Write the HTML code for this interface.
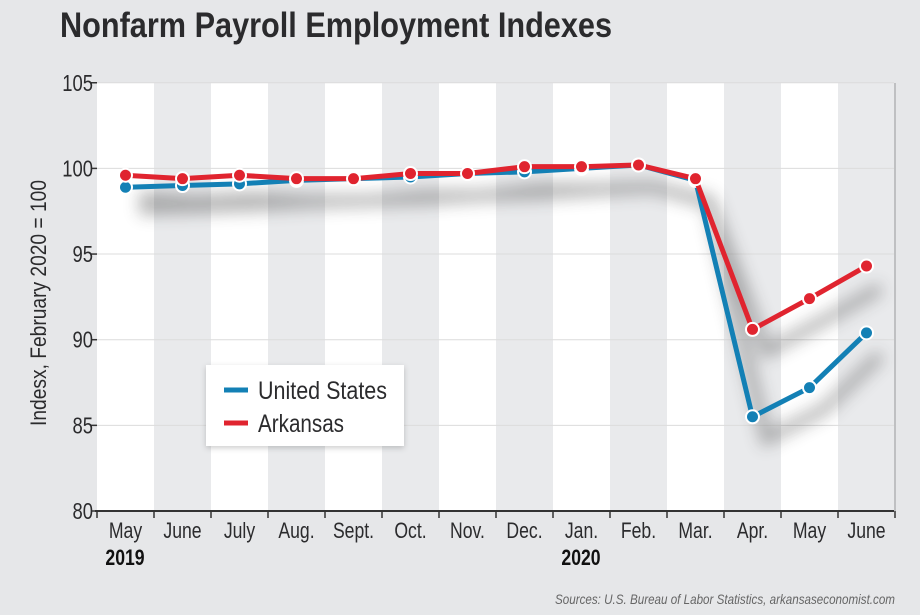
<!DOCTYPE html>
<html><head><meta charset="utf-8"><style>
body{margin:0;background:#e6e7e9;}
svg{display:block}
</style></head><body>
<svg id="s" width="920" height="615" viewBox="0 0 920 615" xmlns="http://www.w3.org/2000/svg" font-family="'Liberation Sans',sans-serif">
<defs>
<filter id="bl" x="-20%" y="-50%" width="140%" height="200%"><feGaussianBlur stdDeviation="8"/></filter>
<filter id="lg" x="-20%" y="-20%" width="140%" height="140%"><feDropShadow dx="0" dy="2" stdDeviation="3" flood-color="#000" flood-opacity="0.2"/></filter>
</defs>
<rect width="920" height="615" fill="#e6e7e9"/>
<text x="60" y="37" font-size="35" font-weight="bold" fill="#2b2b2d" textLength="552" lengthAdjust="spacingAndGlyphs">Nonfarm Payroll Employment Indexes</text>
<g id="cols"></g>
<g id="grid" stroke="#dcdcdc" stroke-width="1"></g>
<g id="shadow" filter="url(#bl)" opacity="0.35"></g>
<g id="lines"></g>
<line x1="95" y1="511" x2="894" y2="511" stroke="#333" stroke-width="2"/>
<line x1="895" y1="83" x2="895" y2="511" stroke="#bfc0c2" stroke-width="2"/>
<g id="ticks" stroke="#333" stroke-width="1.5"></g>
<g id="ylab" font-size="23" fill="#2b2b2d" text-anchor="end"></g>
<g id="xlab" font-size="22" fill="#2b2b2d" text-anchor="middle"></g>
<text class="n" x="125" y="565" font-size="22" font-weight="bold" text-anchor="middle" fill="#111">2019</text>
<text class="n" x="581" y="565" font-size="22" font-weight="bold" text-anchor="middle" fill="#111">2020</text>
<text transform="translate(46,303) rotate(-90)" font-size="22" text-anchor="middle" fill="#2b2b2d" textLength="246" lengthAdjust="spacingAndGlyphs">Indesx, February 2020 = 100</text>
<rect x="206" y="365" width="198" height="81" fill="#fff" filter="url(#lg)"/>
<line x1="224" y1="390" x2="248" y2="390" stroke="#1380b5" stroke-width="5"/>
<line x1="224" y1="423" x2="248" y2="423" stroke="#e0242f" stroke-width="5"/>
<text x="258" y="399" font-size="25" fill="#2b2b2d" textLength="129" lengthAdjust="spacingAndGlyphs">United States</text>
<text x="258" y="432" font-size="25" fill="#2b2b2d" textLength="86" lengthAdjust="spacingAndGlyphs">Arkansas</text>
<text x="895" y="604" font-size="14" font-style="italic" text-anchor="end" fill="#666" textLength="340" lengthAdjust="spacingAndGlyphs">Sources: U.S. Bureau of Labor Statistics, arkansaseconomist.com</text>
</svg>
<script>
const NS="http://www.w3.org/2000/svg";
function el(p,t,a){const e=document.createElementNS(NS,t);for(const k in a)e.setAttribute(k,a[k]);document.getElementById(p).appendChild(e);return e;}
const x0=97,w=57;
const Y=v=>511-(v-80)*17.13;
for(let i=0;i<14;i++){el('cols','rect',{x:x0+i*w,y:83,width:w,height:428,fill:i%2==0?'#ffffff':'#e9eaec'});}
[105,100,95,90,85].forEach(v=>el('grid','line',{x1:x0,x2:894,y1:Y(v),y2:Y(v)}));
[105,100,95,90,85,80].forEach(v=>{const t=el('ylab','text',{x:93,y:Y(v)+8,class:'n'});t.textContent=v;el('ticks','line',{x1:x0-6,x2:x0,y1:Y(v),y2:Y(v)});});
const m=["May","June","July","Aug.","Sept.","Oct.","Nov.","Dec.","Jan.","Feb.","Mar.","Apr.","May","June"];
m.forEach((s,i)=>{const t=el('xlab','text',{x:x0+w/2+i*w,y:538,class:'n'});t.textContent=s;});
for(let i=0;i<=14;i++)el('ticks','line',{x1:x0+i*w,x2:x0+i*w,y1:511,y2:518});
const us=[98.9,99.0,99.1,99.3,99.4,99.5,99.7,99.8,100.0,100.2,99.3,85.5,87.2,90.4];
const ar=[99.6,99.4,99.6,99.4,99.4,99.7,99.7,100.1,100.1,100.2,99.4,90.6,92.4,94.3];
function pts(d,dx,dy){return d.map((v,i)=>(x0+w/2+i*w+dx)+","+(Y(v)+dy)).join(" ");}
el('shadow','polyline',{points:pts(us,14,22),fill:'none',stroke:'#333',"stroke-width":12});
el('shadow','polyline',{points:pts(ar,14,22),fill:'none',stroke:'#333',"stroke-width":12});
[[us,'#1380b5'],[ar,'#e0242f']].forEach(([d,c])=>{
el('lines','polyline',{points:pts(d,0,0),fill:'none',stroke:c,"stroke-width":5,"stroke-linejoin":"round"});
d.forEach((v,i)=>el('lines','circle',{cx:x0+w/2+i*w,cy:Y(v),r:6.5,fill:c,stroke:'#fff',"stroke-width":2}));
});
document.querySelectorAll('text.n').forEach(t=>{const L=t.getComputedTextLength();t.setAttribute('textLength',(L*0.8).toFixed(1));t.setAttribute('lengthAdjust','spacingAndGlyphs');});
</script>
</body></html>
